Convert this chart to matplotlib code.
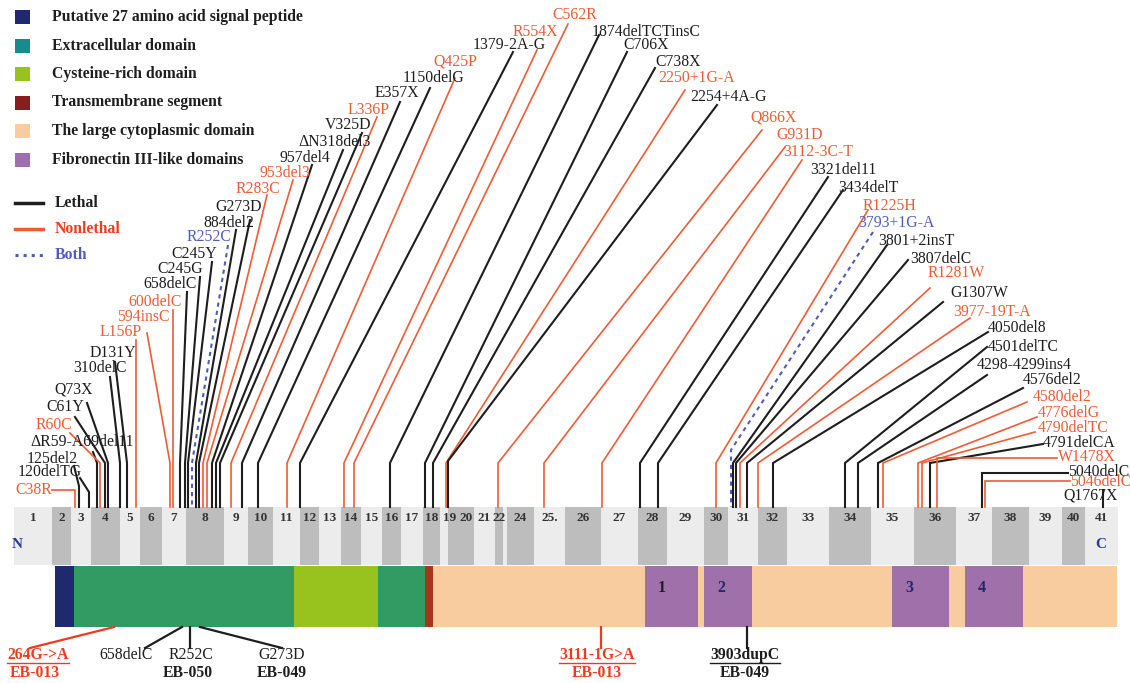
import matplotlib
matplotlib.use('Agg')
import matplotlib.pyplot as plt
from matplotlib.patches import Rectangle

plt.rcParams['font.family'] = ['Liberation Serif', 'DejaVu Serif']

BLACK = '#1e1e1e'
RED = '#ef5b35'
BLUE = '#4f5bbd'
kind_color = {'L': BLACK, 'N': RED, 'B': BLUE}
FS = 11.3

# ---- legend ----
domain_names = ['Putative 27 amino acid signal peptide', 'Extracellular domain',
                'Cysteine-rich domain', 'Transmembrane segment',
                'The large cytoplasmic domain', 'Fibronectin III-like domains']
domain_legend_colors = ['#1f2a6e', '#178c8c', '#98c21d', '#8b1c1c', '#f9cc9f', '#9d6fae']
line_names = ['Lethal', 'Nonlethal', 'Both']
line_kinds = ['L', 'N', 'B']

# ---- exon strip ----
exon_edges = [14, 52, 71, 91, 120, 140, 162, 186, 224, 248, 273, 300, 319, 341, 361,
              382, 401, 423, 440, 448, 474, 495, 503, 507, 534, 565, 601, 638, 667,
              704, 728, 758, 787, 829, 871, 914, 956, 992, 1029, 1062, 1085, 1118]
exon_labels = [str(i) for i in range(1, 42)]
exon_labels[22] = ''
exon_labels[24] = '25.'
exon_label_shift = {18: 6, 19: 5}

# ---- protein domains ----
dom_start = [55, 74, 294, 378, 425, 433, 645, 704, 892, 965]
dom_end = [74, 294, 378, 425, 433, 1117, 698, 752, 949, 1023]
dom_color = ['#1f2a6e', '#329b64', '#98c21d', '#329b64', '#a4361e', '#f9cc9f',
             '#a070aa', '#a070aa', '#a070aa', '#a070aa']
fn_labels = ['1', '2', '3', '4']
fn_label_colors = [BLACK, '#1f2a6e', '#1f2a6e', '#1f2a6e']

# ---- mutations: label, kind, text position, line start, bend ----
mut_names = ['C38R', '120delTG', '125del2', '\u0394R59-A69del11', 'R60C', 'C61Y', 'Q73X',
             '310delC', 'D131Y', 'L156P', '594insC', '600delC', '658delC', 'C245G',
             'C245Y', 'R252C', '884del2', 'G273D', 'R283C', '953del3', '957del4',
             '\u0394N318del3', 'V325D', 'L336P', 'E357X', '1150delG', 'Q425P', '1379-2A-G',
             'R554X', 'C562R', '1874delTCTinsC', 'C706X', 'C738X', '2250+1G-A',
             '2254+4A-G', 'Q866X', 'G931D', '3112-3C-T', '3321del11', '3434delT',
             'R1225H', '3793+1G-A', '3801+2insT', '3807delC', 'R1281W', 'G1307W',
             '3977-19T-A', '4050del8', '4501delTC', '4298-4299ins4', '4576del2',
             '4580del2', '4776delG', '4790delTC', '4791delCA', 'W1478X', '5040delC',
             '5046delC', 'Q1767X']
mut_kind = ['N', 'L', 'L', 'L', 'N', 'L', 'L',
            'L', 'L', 'N', 'N', 'N', 'L', 'L',
            'L', 'B', 'L', 'L', 'N', 'N', 'L',
            'L', 'L', 'N', 'L', 'L', 'N', 'L',
            'N', 'N', 'L', 'L', 'L', 'N',
            'L', 'N', 'N', 'N', 'L', 'L',
            'N', 'B', 'L', 'L', 'N', 'L',
            'N', 'L', 'L', 'L', 'L',
            'N', 'N', 'N', 'L', 'N', 'L',
            'N', 'L']
text_x = [15, 18, 27, 30, 36, 46, 54,
          73, 90, 100, 117, 128, 143, 157,
          171, 187, 203, 215, 236, 259, 280,
          298, 325, 348, 375, 403, 433, 473,
          513, 552, 592, 623, 655, 658,
          690, 750, 776, 783, 810, 838,
          863, 858, 878, 910, 928, 950,
          953, 988, 988, 977, 1023,
          1033, 1038, 1038, 1043, 1058, 1068,
          1070, 1063]
text_y = [490, 472, 459, 442, 425, 407, 390,
          368, 353, 332, 317, 302, 284, 269,
          254, 237, 223, 207, 189, 173, 158,
          142, 125, 110, 93, 78, 62, 45,
          32, 15, 32, 45, 62, 78,
          97, 117, 135, 152, 170, 188,
          206, 223, 241, 259, 273, 293,
          312, 328, 347, 365, 380,
          397, 413, 428, 443, 457, 472,
          482, 495]
start_x = [52, 80, 74, 93, 70, 75, 87,
           110, 115, 136, 147, 173, 187, 200,
           212, 228, 236, 250, 267, 293, 312,
           343, 362, 377, 400, 430, 455, 513,
           537, 568, 599, 627, 655, 685,
           717, 762, 785, 802, 828, 843,
           868, 873, 887, 908, 930, 943,
           970, 988, 987, 987, 1023,
           1027, 1037, 1035, 1043, 1057, 1068,
           1070, 1103]
start_y = [490, 478, 466, 452, 433, 417, 403,
           377, 362, 340, 333, 310, 292, 277,
           262, 245, 230, 220, 195, 180, 165,
           150, 133, 117, 102, 88, 78, 52,
           50, 24, 35, 52, 68, 90,
           105, 130, 147, 160, 177, 190,
           210, 232, 245, 260, 288, 302,
           318, 332, 347, 375, 388,
           402, 417, 432, 444, 458, 473,
           481, 490]
bend_x = [75, 89, 79, 97, 100, 105, 108,
          120, 127, 136, 170, 173, 180, 185,
          188, 192, 196, 199, 203, 207, 212,
          216, 220, 231, 242, 258, 287, 300,
          344, 354, 390, 425, 433, 446,
          448, 498, 544, 602, 640, 658,
          716, 731, 733, 736, 740, 747,
          758, 773, 845, 858, 878,
          883, 918, 922, 930, 937, 982,
          985, 1103]
bend_y = [490, 492, 486, 463, 463, 463, 463,
          463, 463, 463, 463, 463, 463, 463,
          463, 463, 463, 463, 463, 463, 463,
          463, 463, 463, 463, 463, 463, 463,
          463, 463, 463, 463, 463, 463,
          461, 463, 463, 463, 463, 463,
          463, 450, 463, 463, 463, 463,
          463, 463, 463, 463, 463,
          463, 463, 463, 463, 458, 473,
          481, 490]

# ---- patient mutations below the protein ----
pat_names = ['264G->A', '658delC', 'R252C', 'G273D', '3111-1G>A', '3903dupC']
pat_kind = ['N', 'L', 'L', 'L', 'N', 'L']
pat_bold = [True, False, False, False, True, True]
pat_text_x = [38, 126, 191, 282, 597, 745]
pat_bar_x = [114, 182, 190, 200, 601, 747]
pat_end_x = [30, 145, 190, 282, 601, 747]
patients = ['EB-013', 'EB-050', 'EB-049', 'EB-013', 'EB-049']
patient_kind = ['N', 'L', 'L', 'N', 'L']
patient_x = [35, 188, 282, 597, 745]

STRIP_TOP, STRIP_BOT = 507, 565
BAR_TOP, BAR_BOT = 566, 627

fig = plt.figure(figsize=(11.3, 6.83), dpi=100)
ax = fig.add_axes([0, 0, 1, 1])
ax.set_xlim(0, 1130)
ax.set_ylim(683, 0)
ax.axis('off')

# legend
for i, (name, col) in enumerate(zip(domain_names, domain_legend_colors)):
    y = 17 + i * 28.5
    ax.add_patch(Rectangle((15, y - 7), 15, 14, color=col, lw=0))
    ax.text(52, y, name, fontsize=FS, fontweight='bold', va='center', ha='left', color=BLACK)
for i, (name, k) in enumerate(zip(line_names, line_kinds)):
    y = 203 + i * 26
    ls = ':' if k == 'B' else '-'
    ax.plot([15, 43], [y, y], color=kind_color[k], lw=2.5 if k != 'B' else 2.2, ls=ls)
    ax.text(55, y, name, fontsize=FS, fontweight='bold', va='center', ha='left',
            color=kind_color[k] if k != 'N' else '#f03a20')

# exon strip
for i in range(41):
    x0, x1 = exon_edges[i], exon_edges[i + 1]
    col = '#bdbdbd' if (i + 1) % 2 == 0 else '#ececec'
    ax.add_patch(Rectangle((x0, STRIP_TOP), x1 - x0, STRIP_BOT - STRIP_TOP, color=col, lw=0))
    lx = (x0 + x1) / 2 + exon_label_shift.get(i, 0)
    ax.text(lx, 518, exon_labels[i], fontsize=9.5, fontweight='bold', ha='center',
            va='center', color='#333333')
ax.text(17, 545, 'N', fontsize=11, fontweight='bold', color='#2a3a9a', ha='center', va='center')
ax.text(1101, 545, 'C', fontsize=11, fontweight='bold', color='#2a3a9a', ha='center', va='center')

# protein domains
for s, e, c in zip(dom_start, dom_end, dom_color):
    ax.add_patch(Rectangle((s, BAR_TOP), e - s, BAR_BOT - BAR_TOP, color=c, lw=0))
for s, lab, c in zip(dom_start[6:], fn_labels, fn_label_colors):
    ax.text(s + 17, 588, lab, fontsize=11.5, fontweight='bold', color=c, ha='center', va='center')

# mutation lines and labels
for i, name in enumerate(mut_names):
    k = mut_kind[i]
    col = kind_color[k]
    xs = [start_x[i], bend_x[i], bend_x[i]]
    ys = [start_y[i], bend_y[i], STRIP_TOP]
    if k == 'B':
        ax.plot(xs, ys, color=col, lw=1.5, ls=(0, (2, 2)))
    else:
        ax.plot(xs, ys, color=col, lw=1.5 if k == 'L' else 1.2, solid_joinstyle='miter')
    ax.text(text_x[i], text_y[i], name, fontsize=FS, color=col, ha='left', va='center')

# patient mutations
fig.canvas.draw()
rend = fig.canvas.get_renderer()
inv = ax.transData.inverted()
for i, name in enumerate(pat_names):
    col = kind_color[pat_kind[i]]
    if pat_kind[i] == 'N':
        col = '#f03a20'
    ax.plot([pat_bar_x[i], pat_end_x[i]], [BAR_BOT, 648], color=col, lw=1.6)
    t = ax.text(pat_text_x[i], 655, name, fontsize=FS, color=col, ha='center', va='center',
                fontweight='bold' if pat_bold[i] else 'normal')
    if pat_bold[i]:
        bb = t.get_window_extent(rend)
        (x0, _), (x1, _) = inv.transform([[bb.x0, bb.y0], [bb.x1, bb.y1]])
        ax.plot([x0, x1], [663, 663], color=col, lw=1)
for name, k, x in zip(patients, patient_kind, patient_x):
    ax.text(x, 673, name, fontsize=FS, fontweight='bold', ha='center', va='center',
            color='#f03a20' if k == 'N' else BLACK)

fig.savefig('out.png', dpi=100)
